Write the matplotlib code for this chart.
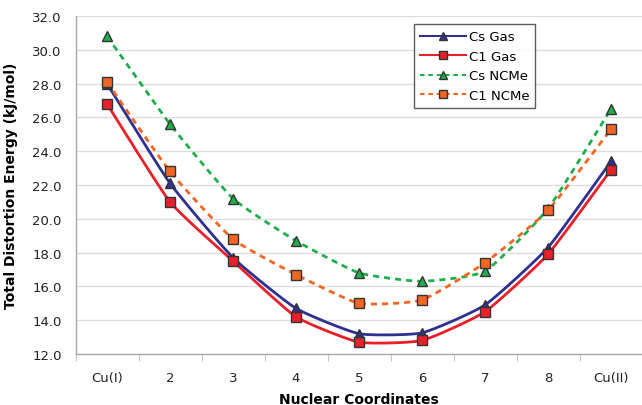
import numpy as np
import matplotlib.pyplot as plt
from matplotlib.lines import Line2D

CATEGORIES = ['Cu(I)', '2', '3', '4', '5', '6', '7', '8', 'Cu(II)']

CS_GAS = [28.0, 22.1, 17.7, 14.7, 13.2, 13.25, 14.9, 18.3, 23.4]
C1_GAS = [26.8, 21.0, 17.5, 14.2, 12.7, 12.8, 14.5, 17.9, 22.9]
CS_NCME = [30.8, 25.6, 21.2, 18.7, 16.8, 16.3, 16.9, 20.6, 26.5]
C1_NCME = [28.1, 22.8, 18.8, 16.7, 15.0, 15.2, 17.4, 20.5, 25.3]


def smooth(x, y, k=0.08, steps=20):
    # lightly smoothed line: cubic bezier with scaled Catmull-Rom control points
    x = np.asarray(x, float)
    y = np.asarray(y, float)
    px, py = [], []
    n = len(x)
    t = np.linspace(0, 1, steps)
    for i in range(n - 1):
        i0, i3 = max(i - 1, 0), min(i + 2, n - 1)
        c1x = x[i] + (x[i + 1] - x[i0]) * k
        c1y = y[i] + (y[i + 1] - y[i0]) * k
        c2x = x[i + 1] - (x[i3] - x[i]) * k
        c2y = y[i + 1] - (y[i3] - y[i]) * k
        bx = ((1 - t) ** 3 * x[i] + 3 * (1 - t) ** 2 * t * c1x
              + 3 * (1 - t) * t ** 2 * c2x + t ** 3 * x[i + 1])
        by = ((1 - t) ** 3 * y[i] + 3 * (1 - t) ** 2 * t * c1y
              + 3 * (1 - t) * t ** 2 * c2y + t ** 3 * y[i + 1])
        px.extend(bx)
        py.extend(by)
    return px, py


def main():
    plt.rcParams['font.family'] = ['DejaVu Sans']
    fig = plt.figure(figsize=(6.42, 4.06), dpi=100)
    ax = fig.add_axes([75.5 / 642, 51 / 406, 567 / 642, 338 / 406])

    xs = np.arange(len(CATEGORIES))
    dash = (0, (2.2, 1.8))
    series = [
        ('Cs Gas', CS_GAS, '#2e3192', '-', '^'),
        ('C1 Gas', C1_GAS, '#e8202a', '-', 's'),
        ('Cs NCMe', CS_NCME, '#1fae4b', dash, '^'),
        ('C1 NCMe', C1_NCME, '#f26522', dash, 's'),
    ]
    handles = []
    for label, vals, color, ls, marker in series:
        sx, sy = smooth(xs, vals)
        ax.plot(sx, sy, color=color, linestyle=ls, linewidth=2, zorder=3)
        ax.plot(xs, vals, linestyle='none', marker=marker, markersize=7,
                markerfacecolor=color, markeredgecolor='#333333',
                markeredgewidth=1, zorder=4)
        handles.append(Line2D([0], [0], color=color, linestyle=ls, linewidth=1.5,
                              marker=marker, markersize=6, markerfacecolor=color,
                              markeredgecolor='#333333', label=label))

    ax.set_xlim(-0.5, len(CATEGORIES) - 0.5)
    ax.set_ylim(12, 32)
    ax.set_yticks(np.arange(12, 32.1, 2))
    ax.set_yticklabels([f'{v:.1f}' for v in np.arange(12, 32.1, 2)], fontsize=9.5,
                       color='#222222')
    ax.set_xticks(xs)
    ax.set_xticklabels(CATEGORIES, fontsize=9.5, color='#222222')
    ax.set_xticks(np.arange(-0.5, len(CATEGORIES), 1), minor=True)
    ax.tick_params(axis='x', which='major', length=0, pad=12)
    ax.tick_params(axis='x', which='minor', length=5, color='#bbbbbb')
    ax.tick_params(axis='y', length=0, pad=10)
    ax.grid(axis='y', color='#dddddd', linewidth=1)
    ax.set_axisbelow(True)
    for side in ['top', 'right']:
        ax.spines[side].set_visible(False)
    for side in ['left', 'bottom']:
        ax.spines[side].set_color('#aaaaaa')
        ax.spines[side].set_linewidth(1)

    ax.set_xlabel('Nuclear Coordinates', fontsize=10, fontweight='bold', labelpad=6)
    ax.set_ylabel('Total Distortion Energy (kJ/mol)', fontsize=10,
                  fontweight='bold', labelpad=10)

    leg = ax.legend(handles=handles, loc='upper left', bbox_to_anchor=(0.585, 0.995),
                    fontsize=9.5, frameon=True, fancybox=False, handlelength=3.5,
                    borderpad=0.45, labelspacing=0.5, handletextpad=0.2)
    leg.get_frame().set_edgecolor('#333333')
    leg.get_frame().set_linewidth(1)

    fig.savefig('out.png', dpi=100)


if __name__ == '__main__':
    main()
